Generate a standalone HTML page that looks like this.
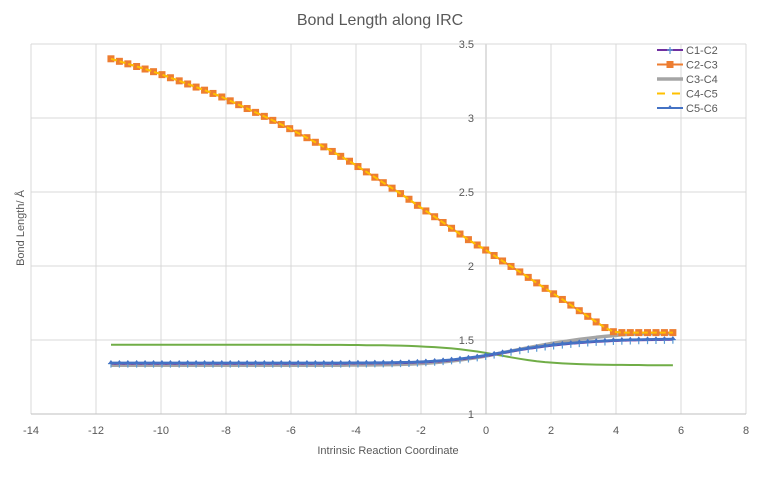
<!DOCTYPE html>
<html><head><meta charset="utf-8"><style>
html,body{margin:0;padding:0;background:#fff}
svg{display:block;font-family:"Liberation Sans",sans-serif}
</style></head><body>
<svg id="chart" width="761" height="481">
<rect x="0" y="0" width="761" height="481" fill="#fff"/>
<text x="380" y="25" text-anchor="middle" font-size="16" fill="#595959">Bond Length along IRC</text>
<g id="grid"></g>
<g id="ticks"></g>
<g id="series"></g>
<text x="388" y="454" text-anchor="middle" font-size="11" fill="#595959">Intrinsic Reaction Coordinate</text>
<text x="0" y="0" transform="translate(24,228) rotate(-90)" text-anchor="middle" font-size="11" fill="#595959">Bond Length/ Å</text>
<g id="legend"></g>
</svg>
<script>
const xTicks=[-14,-12,-10,-8,-6,-4,-2,0,2,4,6,8];
const yTicks=[1,1.5,2,2.5,3,3.5];
const xs=[-11.54,-11.28,-11.02,-10.75,-10.49,-10.23,-9.97,-9.71,-9.44,-9.18,-8.92,-8.66,-8.40,-8.13,-7.87,-7.61,-7.35,-7.09,-6.82,-6.56,-6.30,-6.04,-5.78,-5.51,-5.25,-4.99,-4.73,-4.47,-4.20,-3.94,-3.68,-3.42,-3.16,-2.89,-2.63,-2.37,-2.11,-1.85,-1.58,-1.32,-1.06,-0.80,-0.54,-0.27,-0.01,0.25,0.51,0.77,1.04,1.30,1.56,1.82,2.08,2.35,2.61,2.87,3.13,3.39,3.66,3.92,4.18,4.44,4.70,4.97,5.23,5.49,5.75];
const c23=[3.400,3.383,3.366,3.348,3.331,3.313,3.293,3.272,3.251,3.230,3.209,3.188,3.166,3.142,3.116,3.090,3.064,3.038,3.011,2.984,2.956,2.928,2.898,2.867,2.836,2.805,2.774,2.741,2.708,2.672,2.636,2.600,2.563,2.526,2.489,2.451,2.410,2.372,2.333,2.294,2.255,2.216,2.178,2.142,2.108,2.071,2.034,1.997,1.960,1.923,1.886,1.849,1.812,1.774,1.736,1.698,1.660,1.622,1.584,1.556,1.550,1.550,1.550,1.550,1.550,1.550,1.550];
const c56=[1.345,1.345,1.345,1.345,1.345,1.345,1.345,1.345,1.345,1.345,1.345,1.345,1.345,1.345,1.345,1.345,1.345,1.345,1.345,1.345,1.345,1.345,1.345,1.345,1.345,1.345,1.345,1.345,1.346,1.346,1.346,1.347,1.347,1.348,1.349,1.350,1.352,1.355,1.358,1.362,1.367,1.373,1.380,1.388,1.397,1.406,1.416,1.426,1.436,1.445,1.453,1.461,1.468,1.474,1.479,1.484,1.488,1.492,1.495,1.498,1.500,1.502,1.503,1.504,1.505,1.506,1.507];
const c12=[1.340,1.340,1.340,1.340,1.340,1.340,1.340,1.340,1.340,1.340,1.340,1.340,1.340,1.340,1.340,1.340,1.340,1.340,1.340,1.340,1.340,1.340,1.340,1.340,1.340,1.340,1.340,1.340,1.341,1.341,1.341,1.342,1.342,1.343,1.344,1.345,1.347,1.350,1.353,1.357,1.362,1.368,1.375,1.383,1.392,1.401,1.411,1.421,1.431,1.440,1.448,1.456,1.463,1.469,1.474,1.479,1.483,1.487,1.490,1.493,1.495,1.497,1.498,1.499,1.500,1.501,1.502];
const c34=[1.330,1.330,1.330,1.330,1.330,1.330,1.330,1.330,1.330,1.330,1.330,1.330,1.330,1.330,1.330,1.330,1.330,1.330,1.330,1.330,1.330,1.330,1.330,1.330,1.330,1.330,1.330,1.330,1.331,1.331,1.331,1.332,1.333,1.334,1.335,1.337,1.340,1.343,1.347,1.352,1.358,1.365,1.373,1.382,1.392,1.403,1.414,1.425,1.437,1.448,1.459,1.469,1.479,1.488,1.496,1.504,1.511,1.518,1.524,1.530,1.535,1.539,1.541,1.542,1.543,1.543,1.543];
const c61=[1.468,1.468,1.468,1.468,1.468,1.468,1.468,1.468,1.468,1.468,1.468,1.468,1.468,1.468,1.468,1.468,1.468,1.468,1.468,1.468,1.468,1.468,1.468,1.468,1.467,1.467,1.467,1.467,1.466,1.466,1.465,1.465,1.464,1.463,1.462,1.460,1.458,1.455,1.452,1.448,1.443,1.437,1.430,1.422,1.413,1.403,1.393,1.383,1.373,1.364,1.357,1.351,1.346,1.342,1.339,1.337,1.335,1.334,1.333,1.332,1.332,1.331,1.331,1.330,1.330,1.330,1.330];
const seriesNames=["C1-C2","C2-C3","C3-C4","C4-C5","C5-C6"];

const NS="http://www.w3.org/2000/svg";
const X0=486,XS=32.5,Y0=414,YS=148,L=31,R=746,T=44,B=414;
const sx=v=>X0+v*XS, sy=v=>Y0-(v-1)*YS;
function mk(tag,attrs,parent){const e=document.createElementNS(NS,tag);for(const k in attrs)e.setAttribute(k,attrs[k]);parent.appendChild(e);return e;}
const grid=document.getElementById('grid'),ticks=document.getElementById('ticks'),ser=document.getElementById('series'),leg=document.getElementById('legend');
xTicks.forEach(t=>{
  const ln=mk('line',{x1:sx(t),x2:sx(t),y1:T,y2:B,stroke:t===0?'#bfbfbf':'#d9d9d9','stroke-width':1},grid);
  
  
  const tx=mk('text',{x:sx(t),y:434,'text-anchor':'middle','font-size':11,fill:'#595959'},ticks);
  tx.textContent=t;
  
  
});
yTicks.forEach(t=>{
  const ln=mk('line',{x1:L,x2:R,y1:sy(t),y2:sy(t),stroke:t===1?'#bfbfbf':'#d9d9d9','stroke-width':1},grid);
  
  
  const tx=mk('text',{x:474,y:sy(t)+4,'text-anchor':'end','font-size':11,fill:'#595959'},ticks);
  tx.textContent=t;
  
  
});
function pts(ys){return xs.map((x,i)=>sx(x).toFixed(1)+','+sy(ys[i]).toFixed(1)).join(' ');}
function line(ys,color,w,name,dash){
  const p=mk('polyline',{points:pts(ys),fill:'none',stroke:color,'stroke-width':w,'stroke-linejoin':'round'},ser);
  if(dash)p.setAttribute('stroke-dasharray',dash);
  
  
}
// C6-C1 (green)
line(c61,'#70ad47',2,'series-c6-c1-line');
// C3-C4 grey
line(c34,'#a5a5a5',3.5,'series-c3-c4-line');
// C1-C2 purple with + markers
line(c12,'#7030a0',2,'series-c1-c2-line');
xs.forEach((x,i)=>{const g=mk('path',{d:`M${sx(x)-3},${sy(c12[i])}h6M${sx(x)},${sy(c12[i])-3}v7`,stroke:'#5b9bd5','stroke-width':1.2},ser);
  
  });
// C5-C6 blue with markers
line(c56,'#4472c4',2.5,'series-c5-c6-line');
xs.forEach((x,i)=>{const g=mk('path',{d:`M${sx(x)-3},${sy(c56[i])+1}L${sx(x)},${sy(c56[i])-3}L${sx(x)+3},${sy(c56[i])+1}Z`,fill:'#4472c4'},ser);
  
  });
// C2-C3 orange squares
line(c23,'#ed7d31',2,'series-c2-c3-line');
xs.forEach((x,i)=>{const r=mk('rect',{x:sx(x)-3.5,y:sy(c23[i])-3.5,width:7,height:7,fill:'#ed7d31'},ser);
  
  });
// C4-C5 yellow dashed
line(c23,'#ffc000',2,'series-c4-c5-line','6,3');
// legend
const legColors=['#7030a0','#ed7d31','#a5a5a5','#ffc000','#4472c4'];
seriesNames.forEach((n,i)=>{
  const y=50+i*14.5;
  const g=mk('g',{},leg);
  
  
  const ln=mk('line',{x1:657,x2:683,y1:y,y2:y,stroke:legColors[i],'stroke-width':i===2?3.5:2},g);
  if(i===3)ln.setAttribute('stroke-dasharray','8,7');
  if(i===0)mk('path',{d:`M667,${y}h6M670,${y-3}v7`,stroke:'#5b9bd5','stroke-width':1.2},g);
  if(i===1)mk('rect',{x:666.5,y:y-3.5,width:7,height:7,fill:'#ed7d31'},g);
  if(i===4)mk('path',{d:`M667,${y+1}L670,${y-3}L673,${y+1}Z`,fill:'#4472c4'},g);
  const t=mk('text',{x:686,y:y+4,'font-size':11,fill:'#595959'},g);
  t.textContent=n;
});
</script>
</body></html>
